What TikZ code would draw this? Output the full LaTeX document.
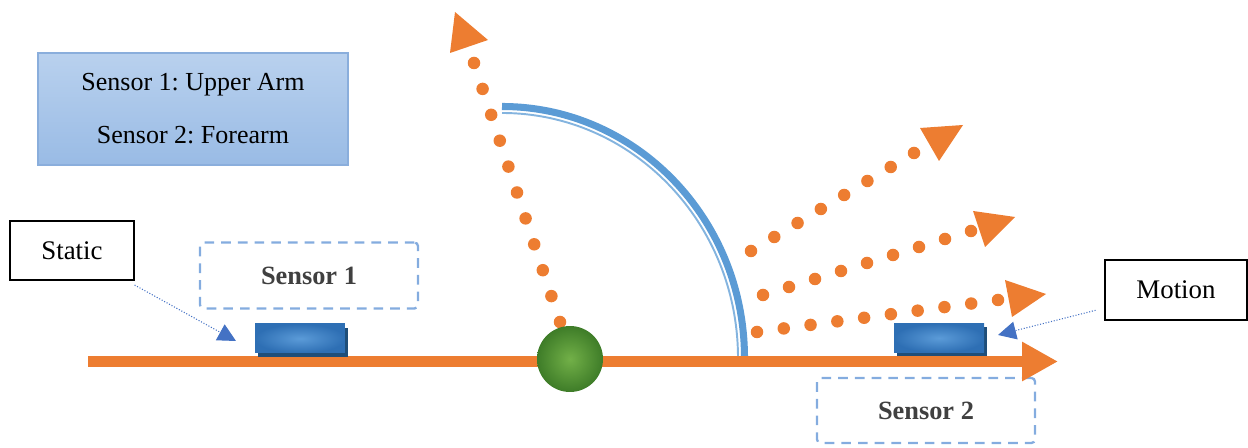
\documentclass[tikz,border=0pt]{standalone}
\usepackage{fontspec}
\setmainfont{Liberation Serif}
\usetikzlibrary{arrows.meta,calc,shadows}
\frenchspacing

\definecolor{axisorange}{HTML}{ED7D31}
\definecolor{arcblue}{HTML}{5B9BD5}
\definecolor{dashblue}{HTML}{84ACDF}
\definecolor{pointerblue}{HTML}{4472C4}
\definecolor{sensorblue}{HTML}{2E6FB4}
\definecolor{sensorlight}{HTML}{5B9BD8}
\definecolor{sensordark}{HTML}{1F4E79}
\definecolor{infotop}{HTML}{B9D1EE}
\definecolor{infobottom}{HTML}{99BBE5}
\definecolor{infoborder}{HTML}{8AAEDC}
\definecolor{balllight}{HTML}{72B048}
\definecolor{balldark}{HTML}{3E7C28}
\definecolor{labelgray}{HTML}{404040}

\begin{document}
\begin{tikzpicture}[x=0.02cm, y=-0.02cm,
    labelbox/.style={draw=black, line width=0.8pt, fill=white, minimum width=2.48cm, minimum height=1.18cm, inner sep=0pt, font=\fontsize{15.3}{18}\selectfont},
    sensorbox/.style={draw=dashblue, line width=1.3pt, dash pattern=on 5.5pt off 4pt, rounded corners=2pt, minimum width=4.36cm, minimum height=1.32cm, inner sep=0pt, text=labelgray, font=\fontsize{15}{18}\selectfont\bfseries},
    sensor/.style={minimum width=1.8cm, minimum height=0.58cm, inner sep=0pt, inner color=sensorlight, outer color=sensorblue, drop shadow={shadow xshift=0.06cm, shadow yshift=-0.08cm, fill=sensordark, opacity=1}},
    joint/.style={circle, minimum size=1.32cm, inner sep=0pt, inner color=balllight, outer color=balldark},
    dot/.style={fill=axisorange},
    head/.style={fill=axisorange},
    pointer/.style={draw=pointerblue, densely dotted, line width=0.6pt, -{Triangle[length=0.36cm, width=0.36cm]}, shorten <=0.18cm}]
  \useasboundingbox (0,0) rectangle (1248,448);

  % legend and labels
  \node[draw=infoborder, line width=0.8pt, top color=infotop, bottom color=infobottom, minimum width=6.2cm, minimum height=2.24cm, align=center, font=\fontsize{14.8}{30.2}\selectfont] (info) at (193,109) {Sensor 1: Upper Arm\\Sensor 2: Forearm};
  \node[labelbox] (static) at (72,250.5) {Static};
  \node[labelbox, minimum width=2.84cm, minimum height=1.2cm] (motion) at (1176,290) {Motion};
  \node[sensorbox] (lbl1) at (309,275.5) {Sensor 1};
  \node[sensorbox, minimum height=1.3cm] (lbl2) at (926,410.5) {Sensor 2};

  % dotted swing lines
  \foreach \a/\b/\n in {{560,322}/{474,63}/10, {751,251}/{914,153}/7, {763,295}/{971,231}/8, {757,332}/{998,300}/9} {
    \foreach \i in {0,...,\n}
      \fill[dot] ($(\a)!\i/\n!(\b)$) circle (0.125cm);
  }
  \foreach \p/\q/\r in {{450,53}/{455,12}/{488,40}, {920,128}/{963,125}/{939,161}, {973,211}/{1015,217}/{985,247}, {1005,280}/{1046,294}/{1012,317}}
    \fill[head] (\p) -- (\q) -- (\r) -- cycle;

  % range arc
  \draw[arcblue, line width=4pt] (502,106.5) .. controls (635.9,106.5) and (744.5,219.1) .. (744.5,358);
  \draw[arcblue!75, line width=1.1pt] (502,113) .. controls (632.3,113) and (738,222.7) .. (738,358);

  % arm axis
  \draw[axisorange, line width=0.22cm, -{Triangle[length=0.72cm, width=0.74cm]}] (88,361.5) -- (1058,361.5);
  \node[joint] (elbow) at (570,359) {};

  % sensors
  \node[sensor] (s1) at (300,338.5) {};
  \node[sensor] (s2) at (939,338) {};
  \coordinate (s1tip) at (236,341);
  \coordinate (s2tip) at (998,335);
  \draw[pointer] (static) -- (s1tip);
  \draw[pointer] (motion) -- (s2tip);
\end{tikzpicture}
\end{document}
